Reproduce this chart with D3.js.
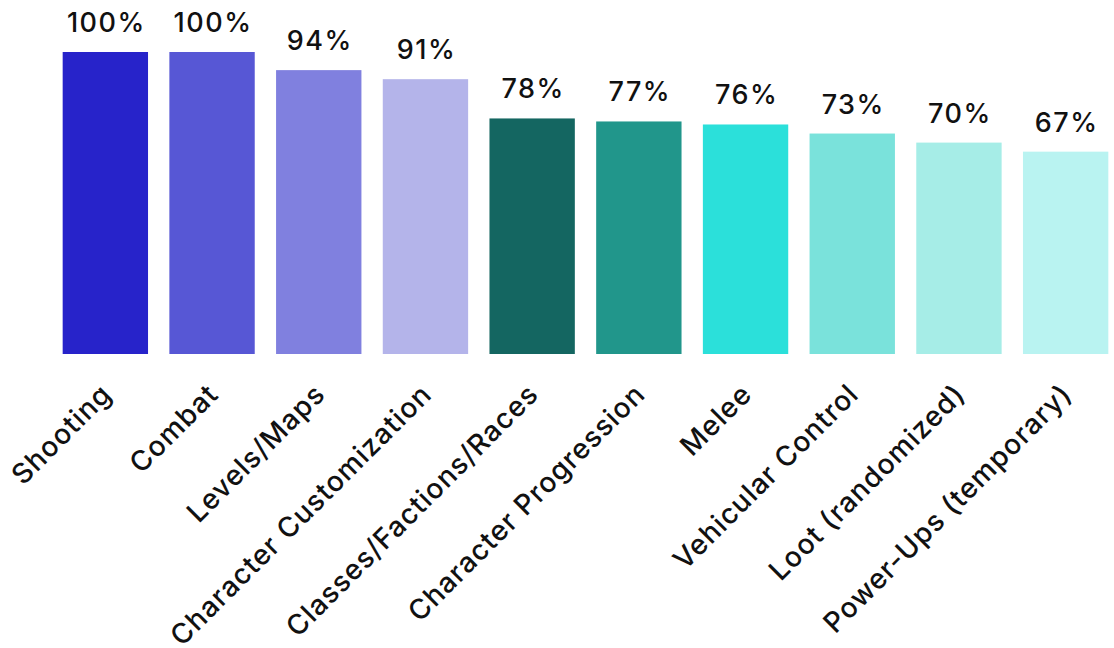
<!DOCTYPE html>
<html lang="en">
<head>
  <meta charset="utf-8">
  <title>Game Features</title>
  <script src="https://d3js.org/d3.v7.min.js"></script>
  <style>
    body { margin: 0; background: #fff; }
    text { font-family: "Inter", "Lato", sans-serif; fill: #111; }
  </style>
</head>
<body>
  <svg width="1114" height="648"></svg>
  <script>
    const categories = ["Shooting", "Combat", "Levels/Maps", "Character Customization",
      "Classes/Factions/Races", "Character Progression", "Melee", "Vehicular Control",
      "Loot (randomized)", "Power-Ups (temporary)"];
    const values = [100, 100, 94, 91, 78, 77, 76, 73, 70, 67];
    const colors = ["#2723ca", "#5757d5", "#8080df", "#b4b4ea", "#146661",
      "#21968b", "#2be0da", "#7ae2db", "#a6ede7", "#b9f3f1"];

    const svg = d3.select("svg");
    const x = d3.scaleBand().domain(categories).range([52, 1119])
      .paddingInner(0.2).paddingOuter(0.1);
    const y = d3.scaleLinear().domain([0, 100]).range([354, 52]);

    svg.selectAll("rect.bar")
      .data(categories)
      .join("rect")
      .attr("class", "bar")
      .attr("x", d => x(d))
      .attr("y", (d, i) => y(values[i]))
      .attr("width", x.bandwidth())
      .attr("height", (d, i) => y(0) - y(values[i]))
      .attr("fill", (d, i) => colors[i]);

    svg.selectAll("text.val")
      .data(categories)
      .join("text")
      .attr("class", "val")
      .attr("x", d => x(d) + x.bandwidth() / 2 + 1)
      .attr("y", (d, i) => y(values[i]) - 20)
      .attr("text-anchor", "middle")
      .attr("font-size", 27)
      .attr("font-weight", 500)
      .attr("letter-spacing", 1.5)
      .text((d, i) => values[i] + "%");

    const axis = svg.append("g").attr("transform", "translate(0,354)")
      .call(d3.axisBottom(x).tickSize(0).tickPadding(0));
    axis.select(".domain").remove();
    axis.selectAll("text")
      .attr("font-size", 28)
      .attr("font-weight", 500)
      .attr("letter-spacing", 1)
      .attr("font-family", "Inter, Lato, sans-serif")
      .attr("fill", "#111")
      .attr("text-anchor", "end")
      .attr("dy", null)
      .attr("y", 0)
      .attr("transform", "translate(8,42) rotate(-45)");
  </script>
</body>
</html>
